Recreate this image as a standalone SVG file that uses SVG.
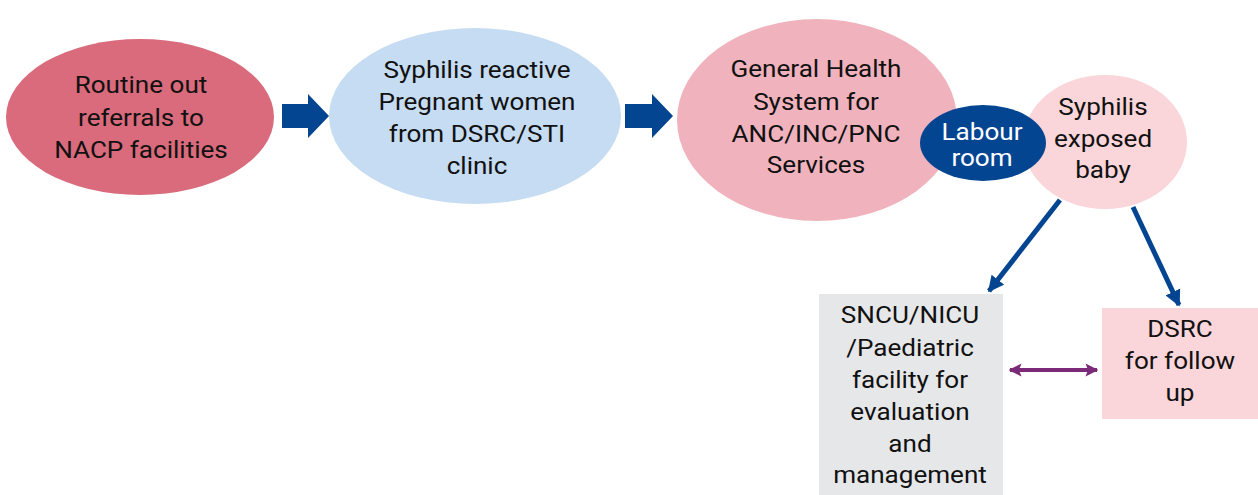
<svg xmlns="http://www.w3.org/2000/svg" width="1258" height="495" viewBox="0 0 1258 495">
<style>
text{font-family:Roboto,"Liberation Sans",sans-serif;font-size:23.5px;fill:#111;text-anchor:middle}
.w{fill:#fff}
.blk{fill:#044592}
.ln{stroke:#044592;stroke-width:5;fill:none}
.pl{stroke:#7b2a78;stroke-width:4;fill:none}
</style>
<defs>
<marker id="ah" viewBox="0 0 10 10" refX="9" refY="5" markerWidth="3.2" markerHeight="3.2" orient="auto" markerUnits="strokeWidth"><path d="M0,0 L10,5 L0,10 z" fill="#044592"/></marker>
<marker id="ph" viewBox="0 0 10 10" refX="9" refY="5" markerWidth="3.2" markerHeight="3.6" orient="auto-start-reverse" markerUnits="strokeWidth"><path d="M0,0 L10,5 L0,10 L2,5 z" fill="#7b2a78"/></marker>
</defs>
<rect width="1258" height="495" fill="#fff"/>
<g id="n1"><ellipse cx="140" cy="117" rx="134" ry="78" fill="#d96b7c"/>
<g transform="translate(141,0) scale(1.11,1)"><text x="0" y="93">Routine out</text><text x="0" y="126">referrals to</text><text x="0" y="158">NACP facilities</text></g></g>
<g id="n2"><ellipse cx="475" cy="116" rx="146" ry="88" fill="#c5dcf2"/>
<g transform="translate(477,0) scale(1.11,1)"><text x="0" y="78">Syphilis reactive</text><text x="0" y="110">Pregnant women</text><text x="0" y="142">from DSRC/STI</text><text x="0" y="174">clinic</text></g></g>
<g id="n3"><ellipse cx="817" cy="120" rx="140" ry="101" fill="#f0b3bd"/>
<g transform="translate(816,0) scale(1.11,1)"><text x="0" y="77">General Health</text><text x="0" y="110">System for</text><text x="0" y="142">ANC/INC/PNC</text><text x="0" y="173">Services</text></g></g>
<g id="n5"><ellipse cx="1105" cy="142" rx="82" ry="67" fill="#fad6da"/>
<g transform="translate(1103,0) scale(1.11,1)"><text x="0" y="115">Syphilis</text><text x="0" y="147">exposed</text><text x="0" y="178">baby</text></g></g>
<g id="n4"><ellipse cx="983" cy="143" rx="63" ry="38" fill="#044592"/>
<g transform="translate(982,0) scale(1.11,1)"><text class="w" x="0" y="140">Labour</text><text class="w" x="0" y="166">room</text></g></g>
<g id="n6"><rect x="819" y="294" width="184" height="201" fill="#e6e7e9"/>
<g transform="translate(910,0) scale(1.11,1)"><text x="0" y="323">SNCU/NICU</text><text x="0" y="356">/Paediatric</text><text x="0" y="388">facility for</text><text x="0" y="420">evaluation</text><text x="0" y="452">and</text><text x="0" y="483">management</text></g></g>
<g id="n7"><rect x="1102" y="308" width="156" height="111" fill="#fad6da"/>
<g transform="translate(1180,0) scale(1.11,1)"><text x="0" y="337">DSRC</text><text x="0" y="369">for follow</text><text x="0" y="401">up</text></g></g>
<g id="connectors">
<path class="blk" d="M282,104 H308 V94 L329,116 L308,138 V128 H282 z"/>
<path class="blk" d="M625,104 H652 V94 L673,116 L652,138 V128 H625 z"/>
<line class="ln" x1="1060" y1="200" x2="989" y2="291" marker-end="url(#ah)"/>
<line class="ln" x1="1133" y1="207" x2="1179" y2="305" marker-end="url(#ah)"/>
<line class="pl" x1="1010" y1="370" x2="1097" y2="370" marker-start="url(#ph)" marker-end="url(#ph)"/>
</g>
</svg>
